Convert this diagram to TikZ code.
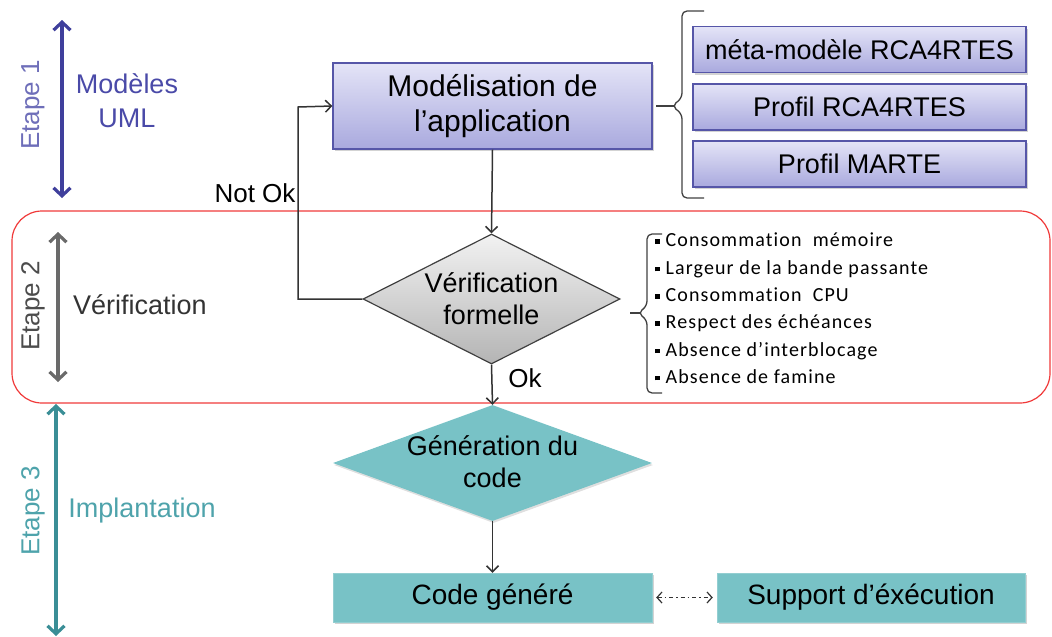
\documentclass[tikz,border=0pt]{standalone}
\usepackage{fontspec}
\setmainfont{Liberation Sans}
\newfontfamily\listfont[LetterSpace=5.5, Ligatures=NoCommon]{Carlito}
\usetikzlibrary{arrows.meta,shapes.geometric,shadows}

\definecolor{umlblue}{HTML}{3F3F9C}
\definecolor{umltext}{HTML}{4A4AA8}
\definecolor{boxtop}{HTML}{E4E4F7}
\definecolor{boxbot}{HTML}{A9A9DE}
\definecolor{boxedge}{HTML}{5656A8}
\definecolor{verigray}{HTML}{6A6A6A}
\definecolor{diatop}{HTML}{F2F2F2}
\definecolor{diabot}{HTML}{B4B4B4}
\definecolor{teal}{HTML}{78C2C6}
\definecolor{tealdark}{HTML}{3A8E96}
\definecolor{tealtext}{HTML}{4EA3AB}
\definecolor{zonered}{HTML}{F03A3A}

\newcommand{\fs}[1]{\fontsize{#1}{#1}\selectfont}
\newcommand{\itemmark}{\rule[3pt]{4.5pt}{4.5pt}\hspace{6pt}}

\tikzset{
  flow/.style={draw=black!80, line width=1.5pt,
    -{Straight Barb[length=6pt,width=12pt]}},
  stagearrow/.style={line width=3.2pt,
    {Straight Barb[length=8pt,width=17pt]}-{Straight Barb[length=8pt,width=17pt]}},
  stagelabel/.style={rotate=90, font=\fs{26}},
  umlbox/.style={draw=boxedge, line width=1.3pt, top color=boxtop, bottom color=boxbot,
    drop shadow={opacity=0.35, shadow xshift=2pt, shadow yshift=-2pt},
    inner sep=0pt, align=center},
  tealbox/.style={fill=teal, draw=teal!80!white, inner sep=0pt, align=center,
    drop shadow={opacity=0.35, shadow xshift=2pt, shadow yshift=-2pt}},
  decision/.style={diamond, inner sep=0pt, aspect=2},
  bracket/.style={draw=black!75, line width=1.3pt, rounded corners=5pt}
}

\begin{document}
\begin{tikzpicture}[x=1pt, y=-1pt]
\useasboundingbox (0,0) rectangle (1052,637);

% --- zone of stage 2 ---
\draw[zonered, line width=1.2pt, rounded corners=30pt] (12,211) rectangle (1050,403);

% --- stage markers on the left ---
\coordinate (s1a) at (62,20);  \coordinate (s1b) at (62,198);
\coordinate (s2a) at (58,232); \coordinate (s2b) at (58,382);
\coordinate (s3a) at (56,404); \coordinate (s3b) at (56,636);
\draw[stagearrow, umlblue] (s1a) -- (s1b);
\draw[stagearrow, verigray] (s2a) -- (s2b);
\draw[stagearrow, tealdark] (s3a) -- (s3b);

\node[stagelabel, text=umltext!80!white] (e1) at (33,105) {Etape 1};
\node[stagelabel, text=black!70] (e2) at (33,306) {Etape 2};
\node[stagelabel, text=tealtext] (e3) at (33,511) {Etape 3};

\node[font=\fs{27}, text=umltext, align=center] (l1) at (127,101) {Modèles\\[7pt]UML};
\node[font=\fs{27}, text=black!80] (l2) at (140,305) {Vérification};
\node[font=\fs{27}, text=tealtext] (l3) at (142,511) {Implantation};

% --- main flow ---
\node[umlbox, minimum width=319pt, minimum height=86pt, font=\fs{30}]
  (model) at (492.5,106) {Modélisation de\\[5pt]l’application};

\node[decision, top color=diatop, bottom color=diabot, draw=black!75, line width=1.2pt,
  minimum width=257pt, minimum height=130pt,
  label={[font=\fs{27}, align=center]center:Vérification\\[5pt]formelle}]
  (verif) at (491.5,299) {};

\node[decision, fill=teal, minimum width=319pt, minimum height=116pt,
  drop shadow={opacity=0.25, shadow xshift=1pt, shadow yshift=-2pt},
  label={[font=\fs{27}, align=center, yshift=1pt]center:Génération du\\[5pt]code}]
  (gen) at (492.5,463) {};

\node[tealbox, minimum width=319pt, minimum height=49pt, font=\fs{28}]
  (code) at (492.5,597.5) {Code généré};
\node[tealbox, minimum width=308pt, minimum height=49pt, font=\fs{28}]
  (exec) at (871,597.5) {Support d’éxécution};

\draw[flow] (model.south) -- (verif.north);
\draw[flow] (verif.south) -- (gen.north);
\draw[flow] (gen.south) -- (code.north);
\draw[flow] (verif.west) -| (298,107) -- (model.west);
\draw[black!80, line width=1.2pt, dash pattern=on 4pt off 3pt on 1.5pt off 3pt,
  {Straight Barb[length=5pt,width=11pt]}-{Straight Barb[length=5pt,width=11pt]}]
  (code.east) ++(4pt,0) coordinate (ca) (exec.west) ++(-4pt,0) coordinate (eb)
  (ca) -- (eb);

\node[font=\fs{26}] (notok) at (255,193) {Not Ok};
\node[font=\fs{26}] (ok) at (525,378) {Ok};

% --- metamodel and profiles ---
\node[umlbox, minimum width=333pt, minimum height=46pt, font=\fs{27}]
  (meta) at (859.5,49.5) {méta-modèle RCA4RTES};
\node[umlbox, minimum width=333pt, minimum height=46pt, font=\fs{27}]
  (prof1) at (859.5,107) {Profil RCA4RTES};
\node[umlbox, minimum width=333pt, minimum height=46pt, font=\fs{27}]
  (prof2) at (859.5,164) {Profil MARTE};

\draw[bracket] (704,11) -- (682,11) -- (682,98) -- (672,106) -- (682,114) -- (682,198) -- (704,198);
\draw[black!75, line width=1.3pt] (656,106) -- (674,106);

% --- verified properties ---
\draw[bracket] (662,234) -- (647,234) -- (647,306) -- (638,313) -- (647,320) -- (647,393) -- (662,393);
\draw[black!75, line width=1.3pt] (630,313) -- (640,313);

\node[anchor=north west, font=\listfont\fs{20}, align=left, inner sep=0pt]
  (props) at (655,233) {%
  \itemmark Consommation \ mémoire\\[7.3pt]
  \itemmark Largeur de la bande passante\\[7.3pt]
  \itemmark Consommation \ CPU\\[7.3pt]
  \itemmark Respect des échéances\\[7.3pt]
  \itemmark Absence d’interblocage\\[7.3pt]
  \itemmark Absence de famine};
\end{tikzpicture}
\end{document}
